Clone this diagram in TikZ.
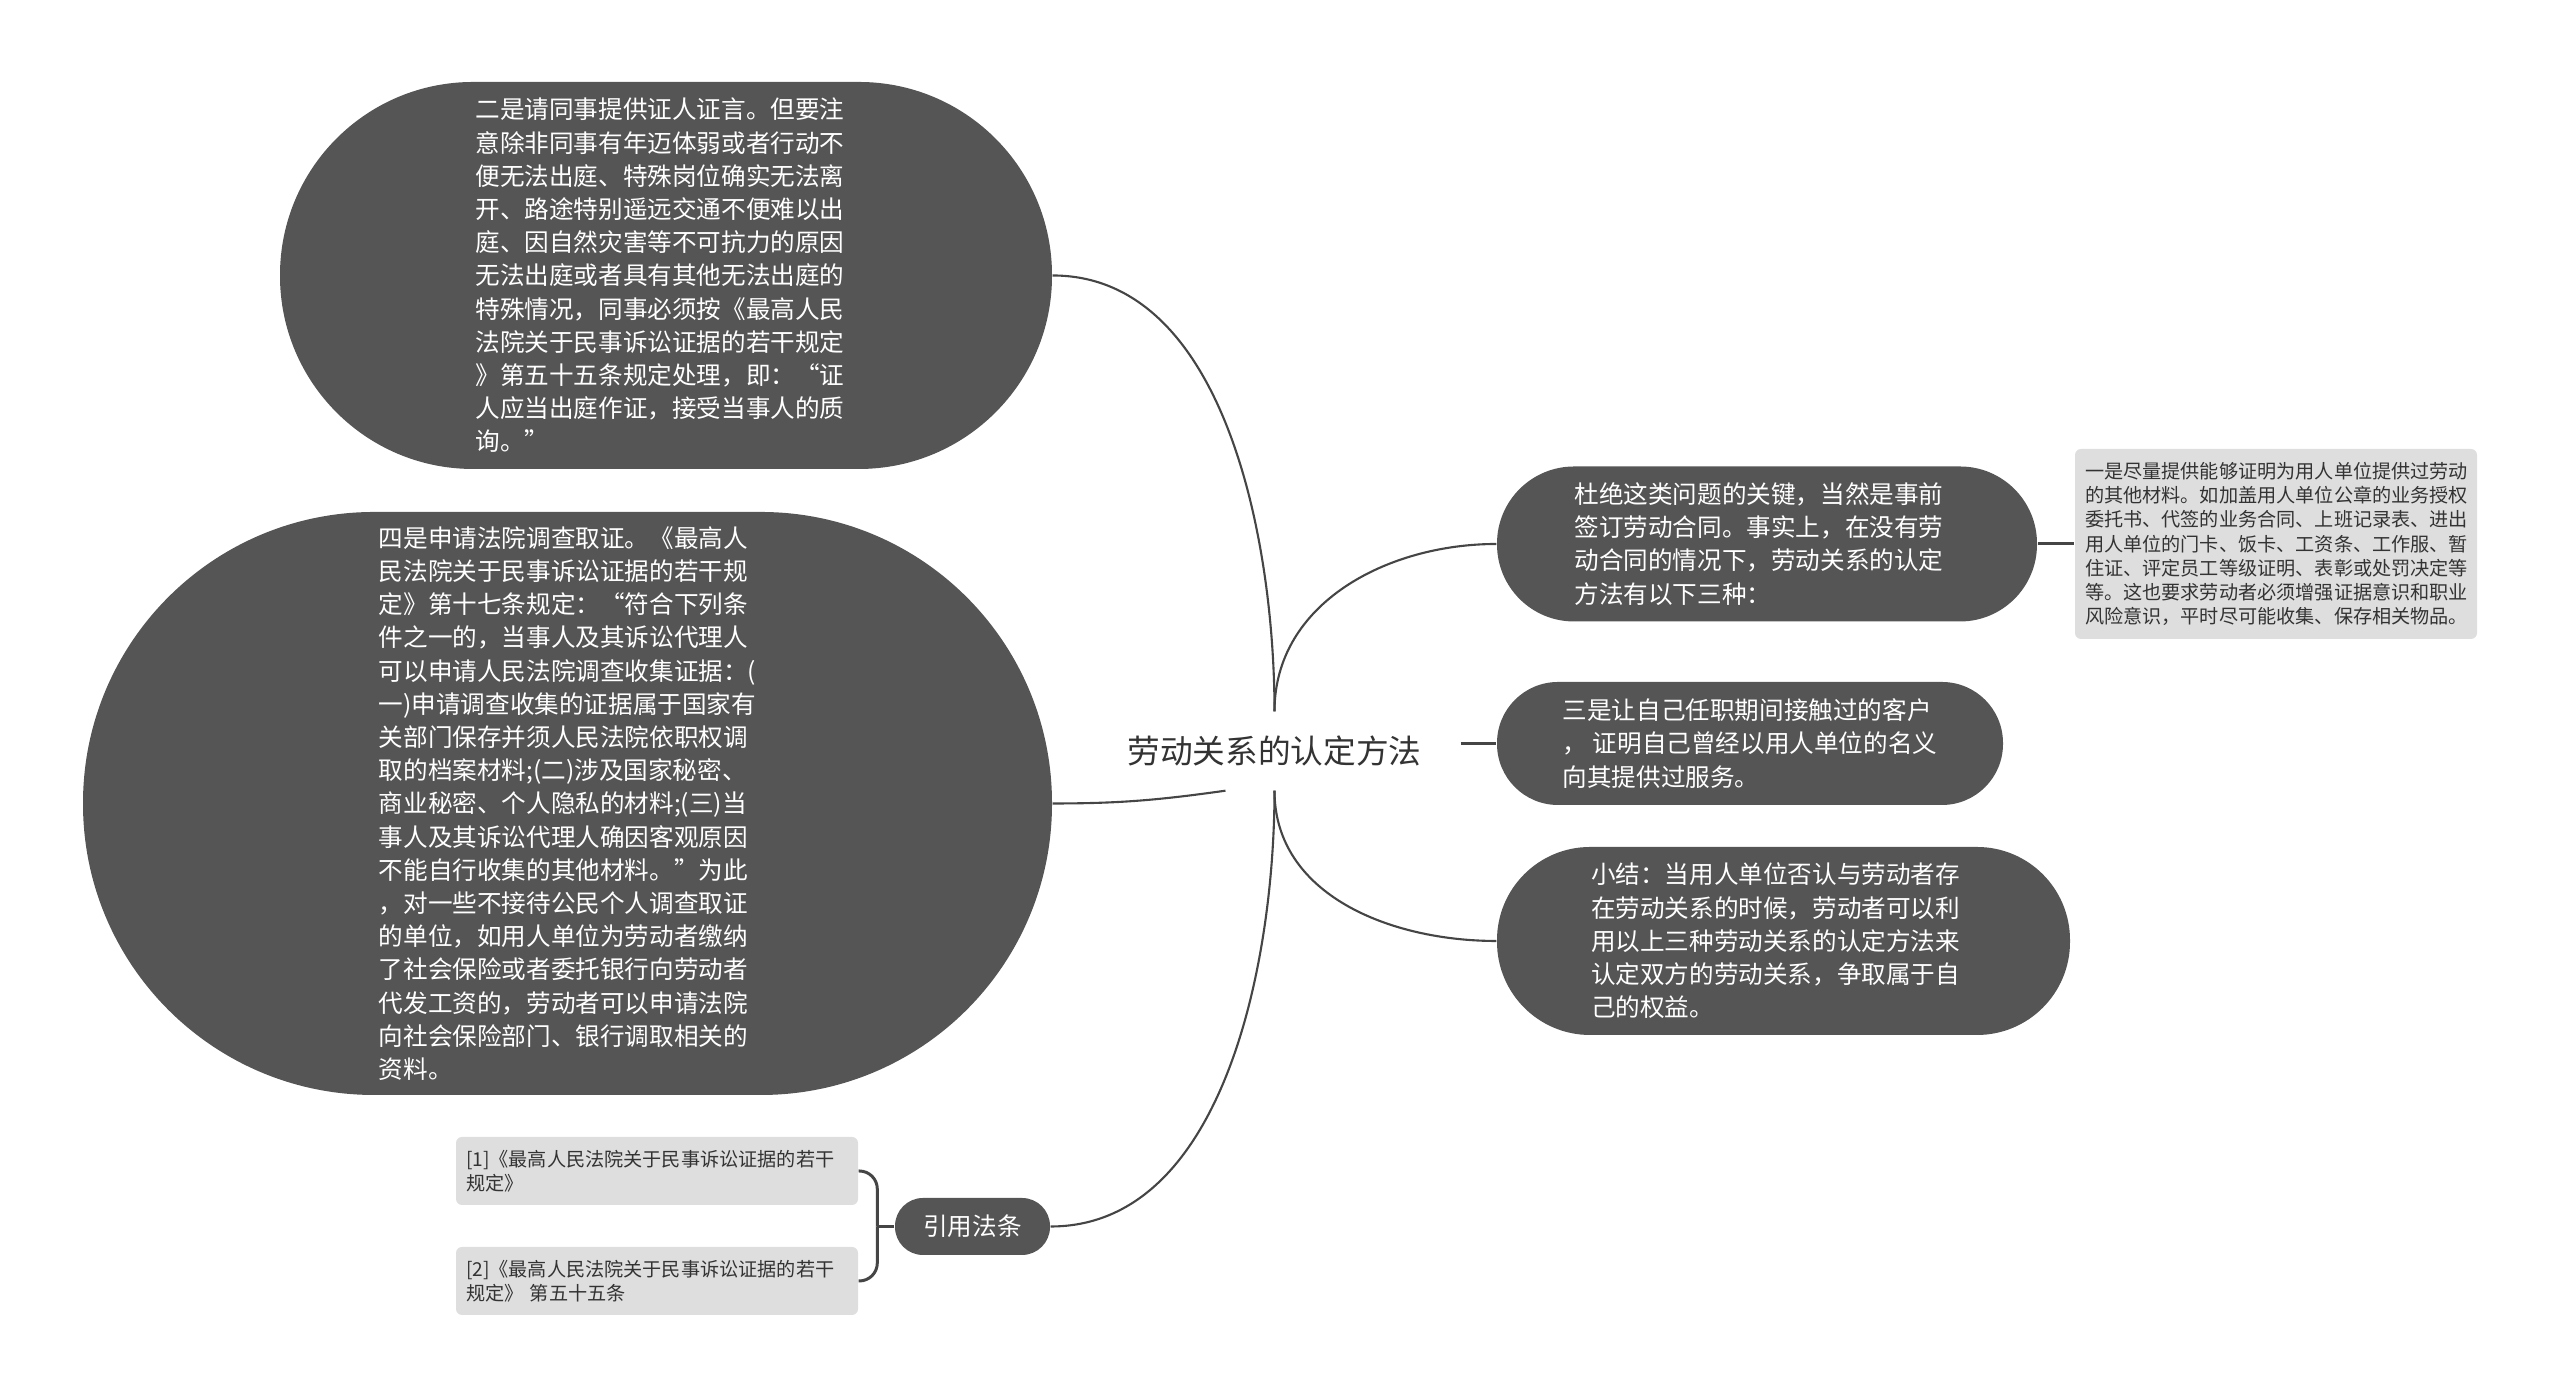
\documentclass[tikz,border=0pt]{standalone}
\usepackage{fontspec}
\setmainfont{Noto Sans CJK SC}
\usepackage{tikz}
\definecolor{grey800}{HTML}{333333}
\definecolor{grey700}{HTML}{555555}
\definecolor{grey600}{HTML}{454545}
\definecolor{grey200}{HTML}{DEDEDE}
\tikzset{
  root/.style   ={minimum width=3.71cm, minimum height=0.78cm, inner sep=0pt,
                  text=grey800, font=\fontsize{9.3pt}{11pt}\selectfont},
  topic/.style  ={fill=grey700, text=white, align=left, inner sep=0pt,
                  font=\fontsize{7pt}{9.45pt}\selectfont},
  leaf/.style   ={fill=grey200, text=grey800, align=left, inner sep=0pt,
                  rounded corners=0.06cm, minimum width=4.02cm,
                  text width=3.82cm, font=\fontsize{5.45pt}{6.9pt}\selectfont},
  link/.style   ={draw=grey600, line width=0.6pt},
  sublink/.style={draw=grey600, line width=0.85pt}
}

\begin{document}
\begin{tikzpicture}
\useasboundingbox (0,0) rectangle (25.6,13.98);
\node[root] (root) at (12.745,6.47) {劳动关系的认定方法};

\node[topic, minimum width=7.72cm, minimum height=3.87cm, text width=3.81cm,
      rounded corners=1.93cm] (n2) at (6.66,11.225)
  {二是请同事提供证人证言。但要注\\ 意除非同事有年迈体弱或者行动不\\
   便无法出庭、特殊岗位确实无法离\\ 开、路途特别遥远交通不便难以出\\
   庭、因自然灾害等不可抗力的原因\\ 无法出庭或者具有其他无法出庭的\\
   特殊情况，同事必须按《最高人民\\ 法院关于民事诉讼证据的若干规定\\
   》第五十五条规定处理，即：“证\\ 人应当出庭作证，接受当事人的质\\
   询。”};
\node[topic, minimum width=9.69cm, minimum height=5.83cm,
      rounded corners=2.91cm] (n4) at (5.675,5.945)
  {四是申请法院调查取证。《最高人\\ 民法院关于民事诉讼证据的若干规\\
   定》第十七条规定：“符合下列条\\ 件之一的，当事人及其诉讼代理人\\
   可以申请人民法院调查收集证据：(\\ 一)申请调查收集的证据属于国家有\\
   关部门保存并须人民法院依职权调\\ 取的档案材料;(二)涉及国家秘密、\\
   商业秘密、个人隐私的材料;(三)当\\ 事人及其诉讼代理人确因客观原因\\
   不能自行收集的其他材料。”为此\\ ，对一些不接待公民个人调查取证\\
   的单位，如用人单位为劳动者缴纳\\ 了社会保险或者委托银行向劳动者\\
   代发工资的，劳动者可以申请法院\\ 向社会保险部门、银行调取相关的\\
   资料。};
\node[topic, minimum width=5.40cm, minimum height=1.55cm, text width=3.85cm,
      rounded corners=0.77cm] (n1) at (17.67,8.54)
  {杜绝这类问题的关键，当然是事前\\ 签订劳动合同。事实上，在没有劳\\
   动合同的情况下，劳动关系的认定\\ 方法有以下三种：};
\node[leaf, minimum height=1.90cm] (n1a) at (22.76,8.54)
  {一是尽量提供能够证明为用人单位提供过劳动\\ 的其他材料。如加盖用人单位公章的业务授权\\
   委托书、代签的业务合同、上班记录表、进出\\ 用人单位的门卡、饭卡、工资条、工作服、暂\\
   住证、评定员工等级证明、表彰或处罚决定等\\ 等。这也要求劳动者必须增强证据意识和职业\\
   风险意识，平时尽可能收集、保存相关物品。};
\node[topic, minimum width=5.06cm, minimum height=1.23cm,
      rounded corners=0.61cm] (n3) at (17.50,6.545)
  {三是让自己任职期间接触过的客户\\ ， 证明自己曾经以用人单位的名义\\
   向其提供过服务。};
\node[topic, minimum width=5.73cm, minimum height=1.88cm, text width=3.85cm,
      rounded corners=0.93cm] (sum) at (17.835,4.57)
  {小结：当用人单位否认与劳动者存\\ 在劳动关系的时候，劳动者可以利\\
   用以上三种劳动关系的认定方法来\\ 认定双方的劳动关系，争取属于自\\
   己的权益。};
\node[topic, minimum width=1.55cm, minimum height=0.57cm,
      rounded corners=0.28cm] (cite) at (9.725,1.715) {引用法条};
\node[leaf, minimum height=0.68cm] (ref1) at (6.57,2.27)
  {[1]《最高人民法院关于民事诉讼证据的若干\\ 规定》};
\node[leaf, minimum height=0.68cm] (ref2) at (6.57,1.17)
  {[2]《最高人民法院关于民事诉讼证据的若干\\ 规定》 第五十五条};

% branches from the root
\draw[link] (root.north) to[out=90, in=0, looseness=0.9] (n2.east);
\draw[link] (root.north) to[out=90, in=180] (n1.west);
\draw[link] (n3.west -| root.east) -- (n3.west);
\draw[link] (root.south) to[out=-90, in=180] (sum.west);
\draw[link] (root.south) to[out=-90, in=0, looseness=0.9] (cite.east);
\draw[link] (root.219) to[out=188, in=0] (n4.east);

% sub branches
\draw[sublink] (n1.east) -- (n1a.west);
\draw[sublink] (cite.west) -- ++(-0.17,0) coordinate (fork);
\draw[sublink, rounded corners=0.18cm] (fork) |- (ref1.east);
\draw[sublink, rounded corners=0.18cm] (fork) |- (ref2.east);
\end{tikzpicture}
\end{document}
